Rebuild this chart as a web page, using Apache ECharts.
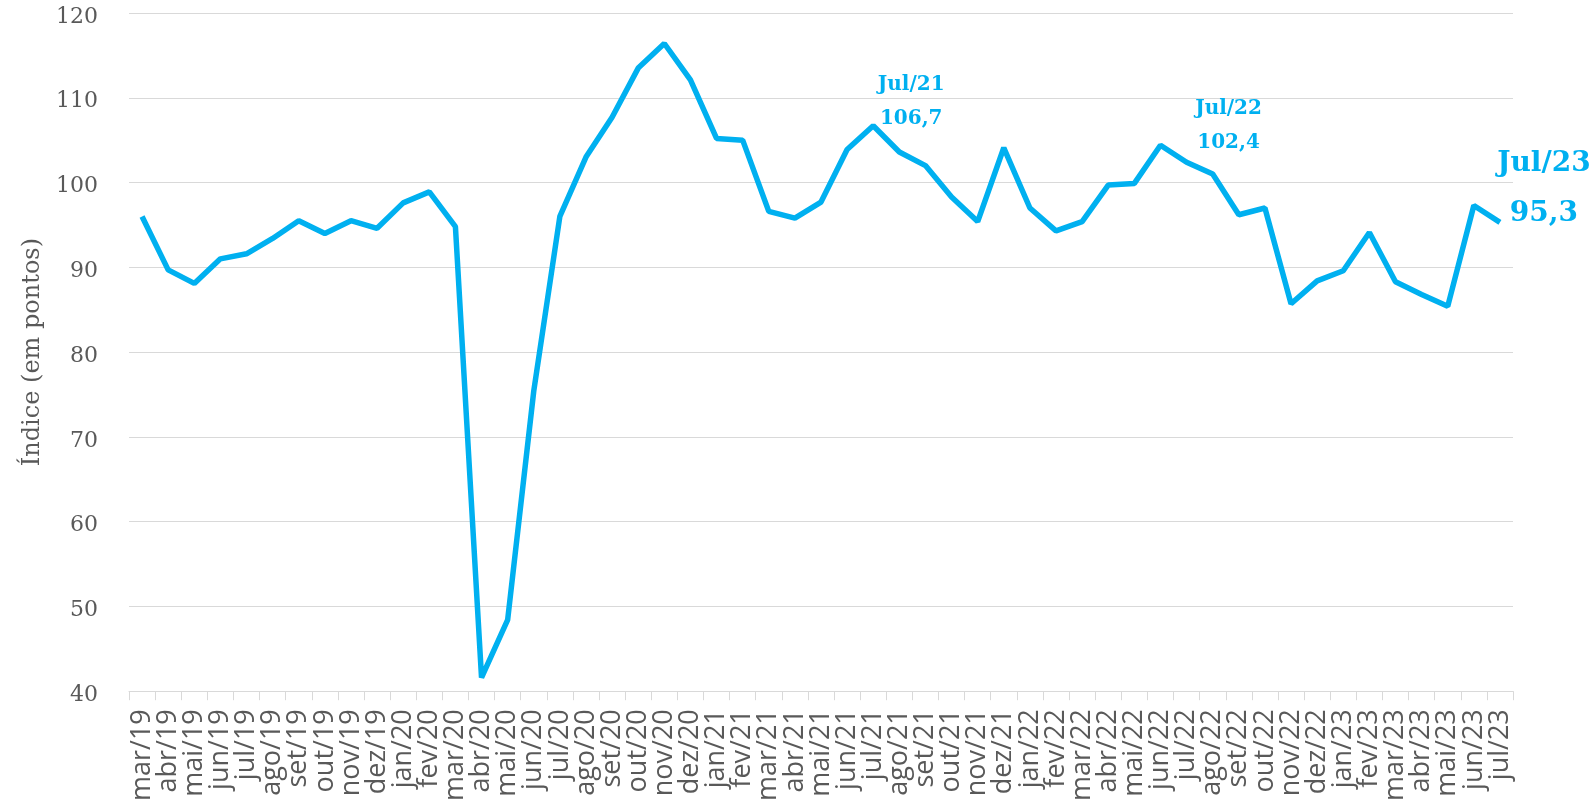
<!doctype html>
<html>
<head>
<meta charset="UTF-8">
<title>Índice (em pontos)</title>
<script src="https://cdn.jsdelivr.net/npm/echarts@6/dist/echarts.min.js"></script>
<style>
  html, body { margin: 0; padding: 0; background: #fff; }
  #main { width: 1595px; height: 804px; }
</style>
</head>
<body>
<div id="main"></div>
<script>
// meses (eixo x)
var meses = ['mar/19','abr/19','mai/19','jun/19','jul/19','ago/19','set/19','out/19','nov/19','dez/19',
  'jan/20','fev/20','mar/20','abr/20','mai/20','jun/20','jul/20','ago/20','set/20','out/20','nov/20','dez/20',
  'jan/21','fev/21','mar/21','abr/21','mai/21','jun/21','jul/21','ago/21','set/21','out/21','nov/21','dez/21',
  'jan/22','fev/22','mar/22','abr/22','mai/22','jun/22','jul/22','ago/22','set/22','out/22','nov/22','dez/22',
  'jan/23','fev/23','mar/23','abr/23','mai/23','jun/23','jul/23'];

// indice (em pontos)
var indice = [96.0, 89.7, 88.1, 91.0, 91.6, 93.4, 95.5, 94.0, 95.5, 94.6,
  97.6, 98.9, 94.8, 41.6, 48.4, 75.4, 96.0, 103.0, 107.7, 113.5, 116.4, 112.1,
  105.2, 105.0, 96.6, 95.8, 97.7, 103.9, 106.7, 103.6, 102.0, 98.3, 95.4, 104.1,
  97.0, 94.3, 95.4, 99.7, 99.9, 104.4, 102.4, 101.0, 96.2, 97.0, 85.7, 88.4,
  89.6, 94.1, 88.3, 86.8, 85.4, 97.3, 95.3];

// meses com rotulo
var destaques = ['jul/21', 'jul/22', 'jul/23'];
var yTicks = [40, 50, 60, 70, 80, 90, 100, 110, 120];

var azul = '#00B0F0';

function rotulo(mes) {
  var small = {
    show: true, position: 'inside', color: azul,
    fontFamily: 'DejaVu Serif', fontWeight: 'bold', fontSize: 20, lineHeight: 34
  };
  if (mes === 'jul/21') { small.offset = [38, -24]; return small; }
  if (mes === 'jul/22') { small.offset = [42, -36]; return small; }
  return {
    show: true, position: 'inside', color: azul,
    fontFamily: 'DejaVu Serif', fontWeight: 'bold', fontSize: 28, lineHeight: 50,
    offset: [44, -34]
  };
}

var dados = indice.map(function (v, i) {
  var item = { value: v };
  if (destaques.indexOf(meses[i]) >= 0) {
    item.label = rotulo(meses[i]);
  }
  return item;
});

var myChart = echarts.init(document.getElementById('main'));

var option = {
  animation: false,
  grid: { left: 129, right: 82, top: 13, bottom: 107 },
  xAxis: {
    type: 'category',
    data: meses,
    axisLine: { lineStyle: { color: '#D9D9D9', width: 1 } },
    axisTick: { show: true, length: 9, lineStyle: { color: '#D9D9D9' } },
    axisLabel: {
      interval: 0, rotate: 90, margin: 18,
      color: '#595959', fontFamily: 'Open Sans', fontSize: 27
    },
    splitLine: { show: false }
  },
  yAxis: {
    type: 'value',
    min: yTicks[0], max: yTicks[yTicks.length - 1], interval: 10,
    name: 'Índice (em pontos)',
    nameLocation: 'middle',
    nameGap: 80,
    nameRotate: 90,
    nameTextStyle: { color: '#595959', fontFamily: 'DejaVu Serif', fontSize: 24 },
    axisLine: { show: false },
    axisTick: { show: false },
    axisLabel: {
      margin: 31,
      formatter: '{n|{value}}',
      rich: {
        n: { color: '#595959', fontFamily: 'DejaVu Serif', fontSize: 22, padding: [8, 0, 0, 0] }
      }
    },
    splitLine: { lineStyle: { color: '#D9D9D9', width: 1 } }
  },
  series: [{
    type: 'line',
    data: dados,
    showSymbol: true,
    symbol: 'circle',
    symbolSize: 0,
    lineStyle: { color: azul, width: 5.5 },
    itemStyle: { color: azul },
    label: {
      show: false,
      formatter: function (p) {
        var m = p.name.charAt(0).toUpperCase() + p.name.slice(1);
        return m + '\n' + String(p.value).replace('.', ',');
      }
    }
  }]
};

myChart.setOption(option);
</script>
</body>
</html>
